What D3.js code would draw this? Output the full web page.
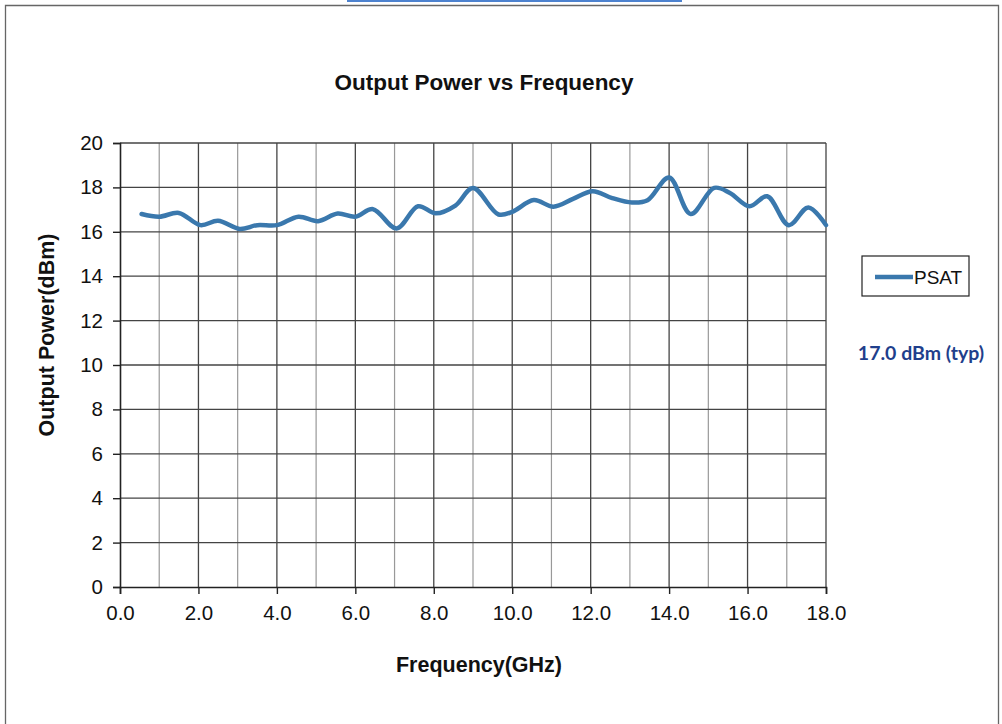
<!DOCTYPE html>
<html>
<head>
<meta charset="utf-8">
<script src="https://cdn.jsdelivr.net/npm/d3@7"></script>
<style>
  body { margin: 0; background: #fff; }
  text { font-family: "Liberation Sans", Arial, sans-serif; }
</style>
</head>
<body>
<script>
// PSAT readings, frequency in GHz
const freq = [0.55, 1.0, 1.5, 2.05, 2.5, 3.05, 3.5, 4.0, 4.55, 5.05, 5.55, 6.0, 6.45, 7.05, 7.6, 8.05, 8.55, 9.0, 9.65, 10.0, 10.55, 11.05, 11.55, 12.05, 12.55, 13.05, 13.45, 14.0, 14.55, 15.15, 15.55, 16.05, 16.5, 17.05, 17.55, 18.0];
const psat = [16.8, 16.68, 16.85, 16.3, 16.5, 16.13, 16.3, 16.3, 16.68, 16.48, 16.82, 16.68, 17.02, 16.15, 17.15, 16.83, 17.18, 17.97, 16.78, 16.9, 17.43, 17.13, 17.48, 17.83, 17.52, 17.32, 17.42, 18.45, 16.8, 17.98, 17.75, 17.15, 17.6, 16.3, 17.1, 16.3];
const xTicks = [0, 2, 4, 6, 8, 10, 12, 14, 16, 18];
const xMinor = [1, 3, 5, 7, 9, 11, 13, 15, 17];
const yTicks = [0, 2, 4, 6, 8, 10, 12, 14, 16, 18, 20];

const W = 1002, H = 724;
const svg = d3.select("body").append("svg").attr("width", W).attr("height", H);

// page frame from the scan
svg.append("rect").attr("x", 347).attr("y", 0).attr("width", 335).attr("height", 2).attr("fill", "#4d82cf");
svg.append("path").attr("d", "M5.5,730 V5.5 H998.5 V730")
  .attr("fill", "none").attr("stroke", "#666").attr("stroke-width", 1.3);

const x = d3.scaleLinear().domain([0, 18]).range([120, 826]);
const y = d3.scaleLinear().domain([0, 20]).range([587, 143]);

// gridlines
svg.append("g").selectAll("line").data(xMinor).join("line")
  .attr("x1", d => x(d)).attr("x2", d => x(d)).attr("y1", y(0)).attr("y2", y(20))
  .attr("stroke", "#999").attr("stroke-width", 1.2);
svg.append("g").selectAll("line").data(xTicks.slice(1)).join("line")
  .attr("x1", d => x(d)).attr("x2", d => x(d)).attr("y1", y(0)).attr("y2", y(20))
  .attr("stroke", "#444").attr("stroke-width", 1.3);
svg.append("g").selectAll("line").data(yTicks.slice(1)).join("line")
  .attr("x1", x(0)).attr("x2", x(18)).attr("y1", d => y(d)).attr("y2", d => y(d))
  .attr("stroke", "#444").attr("stroke-width", 1.3);

// axes
const xAxis = svg.append("g").attr("transform", `translate(0,${y(0)})`)
  .call(d3.axisBottom(x).tickValues(xTicks).tickFormat(d3.format(".1f")).tickSize(7).tickPadding(11));
const yAxis = svg.append("g").attr("transform", `translate(${x(0)},0)`)
  .call(d3.axisLeft(y).tickValues(yTicks).tickSize(7).tickPadding(10));
[xAxis, yAxis].forEach(a => {
  a.select(".domain").attr("stroke", "#222").attr("stroke-width", 1.6);
  a.selectAll(".tick line").attr("stroke", "#222").attr("stroke-width", 1.4);
  a.selectAll("text").attr("font-size", 20.5).attr("fill", "#111");
});

// line
const line = d3.line().x((d, i) => x(freq[i])).y(d => y(d)).curve(d3.curveCatmullRom.alpha(0.5));
svg.append("path").datum(psat).attr("d", line)
  .attr("fill", "none").attr("stroke", "#3a78ad").attr("stroke-width", 4.5)
  .attr("stroke-linejoin", "round").attr("stroke-linecap", "round");

// titles
svg.append("text").attr("x", 484).attr("y", 90).attr("text-anchor", "middle")
  .attr("font-size", 22.5).attr("font-weight", "bold").attr("fill", "#111").text("Output Power vs Frequency");
svg.append("text").attr("x", 479).attr("y", 672).attr("text-anchor", "middle")
  .attr("font-size", 21.5).attr("font-weight", "bold").attr("fill", "#111").text("Frequency(GHz)");
svg.append("text").attr("transform", "translate(54,335) rotate(-90)").attr("text-anchor", "middle")
  .attr("font-size", 21.5).attr("font-weight", "bold").attr("fill", "#111").text("Output Power(dBm)");

// legend
svg.append("rect").attr("x", 862).attr("y", 256).attr("width", 107).attr("height", 40)
  .attr("fill", "#fff").attr("stroke", "#222").attr("stroke-width", 1.2);
svg.append("line").attr("x1", 875).attr("x2", 913).attr("y1", 277).attr("y2", 277)
  .attr("stroke", "#3a78ad").attr("stroke-width", 4.5);
svg.append("text").attr("x", 914).attr("y", 284).attr("font-size", 19).attr("fill", "#111").text("PSAT");

svg.append("text").attr("x", 921).attr("y", 360).attr("text-anchor", "middle")
  .style("font-family", "Lato, 'Open Sans', sans-serif").attr("font-size", 19.5).attr("font-weight", "bold")
  .attr("fill", "#1f3f8c").text("17.0 dBm (typ)");
</script>
</body>
</html>
